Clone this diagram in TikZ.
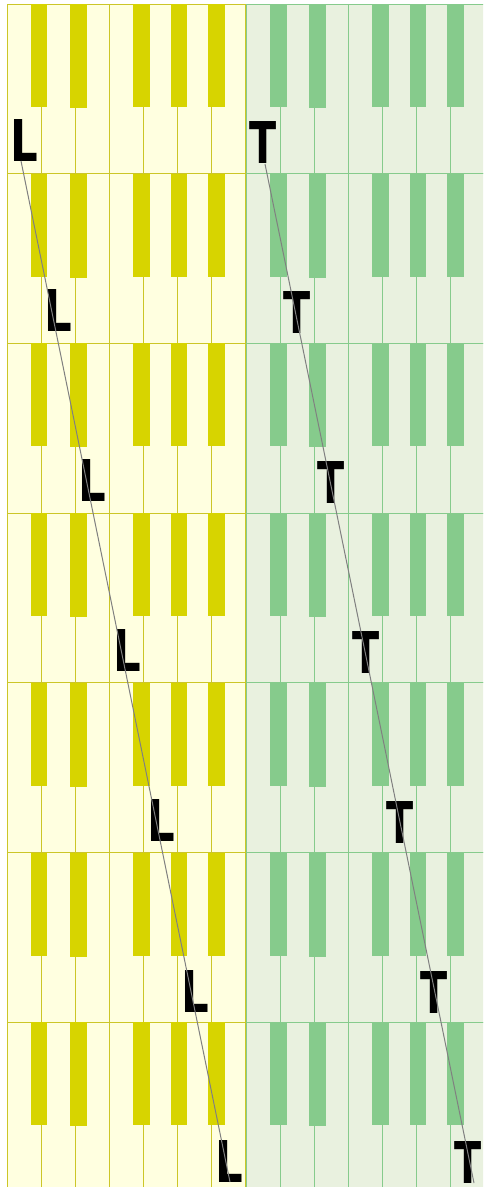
\documentclass[tikz,border=0pt]{standalone}
\usepackage{fontspec}
\newfontfamily\keyfont{DejaVu Sans}
\definecolor{ylbg}{RGB}{255,255,224}
\definecolor{ylkey}{RGB}{215,212,0}
\definecolor{ylline}{RGB}{204,198,40}
\definecolor{grbg}{RGB}{233,241,223}
\definecolor{grkey}{RGB}{134,203,140}
\definecolor{grline}{RGB}{134,203,140}
\definecolor{conn}{RGB}{128,128,128}
\tikzset{
  ywhite/.style={fill=ylbg,draw=ylline,line width=1pt},
  yblack/.style={fill=ylkey},
  gwhite/.style={fill=grbg,draw=grline,line width=1pt},
  gblack/.style={fill=grkey},
  letterL/.style={inner sep=0pt,anchor=base west,xscale=0.754,font=\keyfont\bfseries\fontsize{57.6}{60}\selectfont},
  letterT/.style={inner sep=0pt,anchor=base west,xscale=0.69,font=\keyfont\bfseries\fontsize{57.6}{60}\selectfont},
  connector/.style={draw=conn,line width=1pt}
}
\begin{document}
\begin{tikzpicture}[x=1pt,y=-1pt]
\useasboundingbox (0,0) rectangle (483,1187);
\clip (0,0) rectangle (483,1187);
\foreach \r in {0,...,6} {
  \pgfmathsetmacro\rt{4+169.7*\r}
  \foreach \k in {0,...,6} {
    \path[ywhite] (7+34.14*\k,\rt) rectangle ++(34.14,169.7);
  }
  \foreach \o/\w/\h in {23.7/16.3/103,63/17/104,126/16.5/103,163.7/16.5/103,201/16.7/103} {
    \path[yblack] (7+\o,\rt) rectangle ++(\w,\h);
  }
  \foreach \k in {0,...,6} {
    \path[gwhite] (246+34.14*\k,\rt) rectangle ++(34.14,169.7);
  }
  \foreach \o/\w/\h in {24/16.7/103,63.3/17/104,126/16.7/103,163.7/16.6/103,201/17/103} {
    \path[gblack] (246+\o,\rt) rectangle ++(\w,\h);
  }
}
\foreach \r in {0,...,6} {
  \node[letterL] (L\r) at (10+34.3*\r,161+170.2*\r) {L};
  \node[letterT] (T\r) at (249+34.3*\r,163.3+170*\r) {T};
}
\coordinate (Ls) at (21,161);
\coordinate (Le) at (230,1182);
\coordinate (Ts) at (265,164);
\coordinate (Te) at (474,1183);
\draw[connector] (Ls) -- (Le);
\draw[connector] (Ts) -- (Te);
\end{tikzpicture}
\end{document}
